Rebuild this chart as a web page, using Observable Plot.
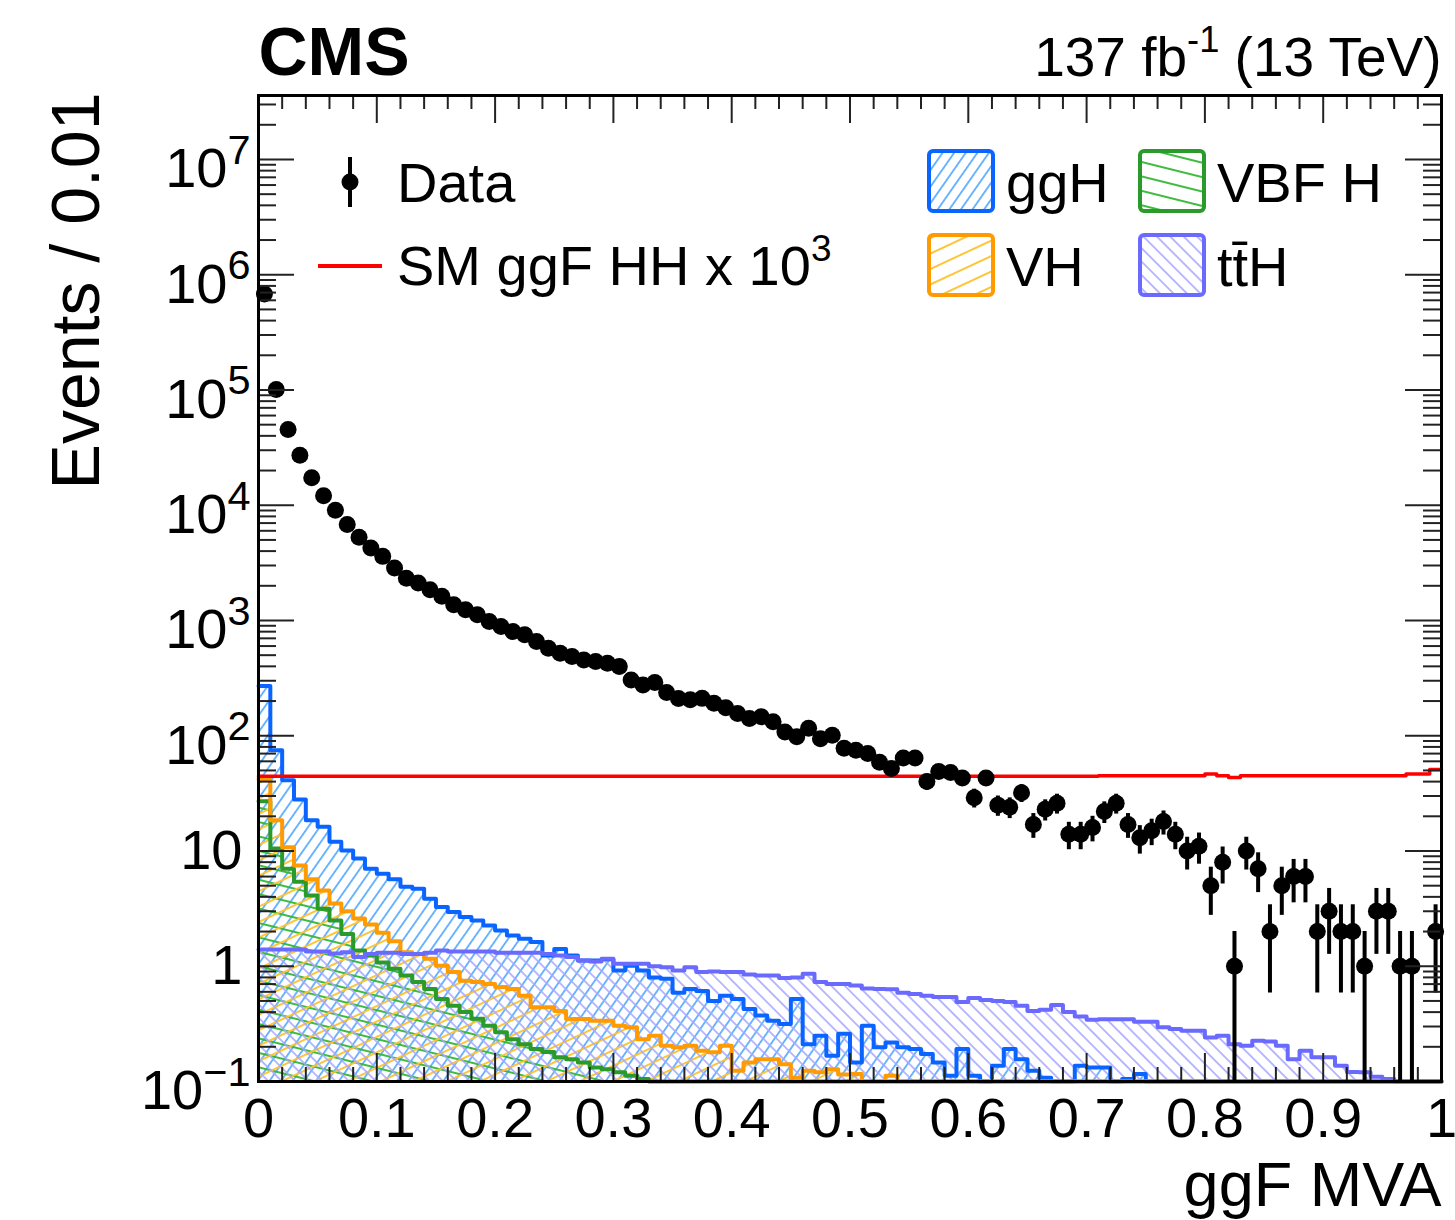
<!DOCTYPE html>
<html><head><meta charset="utf-8">
<script src="https://cdn.jsdelivr.net/npm/d3@7"></script>
<script src="https://cdn.jsdelivr.net/npm/@observablehq/plot@0.6"></script>
<style>
html,body{margin:0;padding:0;background:#fff;}
svg text{font-family:"Liberation Sans", Arial, Helvetica, sans-serif;}
</style></head><body><div id="chart"></div>
<script>
// ---------------- data (Events / 0.01 bin, ggF MVA in [0,1]) ----------------
const binWidth = 0.01;
const dataCounts = [680000,101000,45500,27200,17300,12100,9050,6800,5270,4260,
 3600,2850,2330,2110,1850,1620,1370,1240,1120,980,
 887,802,751,657,574,520,486,455,440,425,
 398,305,276,290,237,210,205,211,191,175,
 156,141,146,132,108,98,116,94,101,78,
 75,70,59,52,64,64,40,49,48,43,
 29,43,25,24,32,17,23,26,14,14,
 16,22,26,17,13,15,18,14,10,11,
 5,8,1,10,7,2,5,6,6,2,
 3,2,2,1,3,3,1,1,0,2];
const ggH = [270,75,41,28,18.5,16.2,12.0,10.1,8.6,7.0,
 6.35,5.7,4.9,4.7,3.85,3.26,2.95,2.67,2.5,2.26,
 2.04,1.85,1.73,1.62,1.24,1.41,1.24,1.12,1.12,1.15,
 0.92,1.01,0.92,0.80,0.78,0.59,0.635,0.61,0.50,0.556,
 0.52,0.425,0.373,0.337,0.315,0.52,0.211,0.25,0.167,0.26,
 0.146,0.305,0.198,0.218,0.198,0.191,0.173,0.146,0.112,0.191,
 0.112,0,0.137,0.191,0.156,0.124,0.108,0,0,0.137,
 0.132,0.132,0,0.105,0.116,0,0,0,0,0,
 0,0,0,0,0,0,0,0,0,0,
 0,0,0,0,0,0,0,0,0,0];
const vbfH = [27,10.5,7.0,5.4,4.1,3.15,2.5,1.9,1.37,1.24,
 1.08,0.95,0.83,0.73,0.635,0.52,0.455,0.40,0.35,0.305,
 0.267,0.233,0.211,0.191,0.18,0.162,0.156,0.146,0.132,0.128,
 0.12,0.112,0.105,0,0,0,0,0,0,0,
 0,0,0,0,0,0,0,0,0,0,
 0,0,0,0,0,0,0,0,0,0,
 0,0,0,0,0,0,0,0,0,0,
 0,0,0,0,0,0,0,0,0,0,
 0,0,0,0,0,0,0,0,0,0,
 0,0,0,0,0,0,0,0,0,0];
const vH = [42,18.5,10.8,7.5,5.7,4.55,3.5,3.0,2.6,2.3,
 1.95,1.65,1.32,1.28,1.16,1.01,0.89,0.75,0.73,0.70,
 0.66,0.635,0.556,0.44,0.44,0.41,0.348,0.348,0.337,0.337,
 0.305,0.295,0.233,0.25,0.204,0.198,0.204,0.185,0.179,0.204,
 0.124,0.146,0.156,0.156,0.141,0.108,0.124,0.12,0.128,0.115,
 0.116,0,0,0.112,0,0,0,0,0,0,
 0,0,0,0,0,0,0,0,0,0,
 0,0,0,0,0,0,0,0,0,0,
 0,0,0,0,0,0,0,0,0,0,
 0,0,0,0,0,0,0,0,0,0];
const ttH = [1.40,1.40,1.40,1.40,1.34,1.34,1.29,1.32,1.20,1.28,
 1.31,1.31,1.28,1.28,1.31,1.37,1.34,1.34,1.34,1.34,
 1.31,1.31,1.31,1.31,1.28,1.24,1.20,1.12,1.10,1.16,
 1.05,1.05,1.05,1.0,0.98,0.92,0.98,0.89,0.90,0.89,
 0.89,0.85,0.83,0.83,0.79,0.80,0.86,0.73,0.70,0.70,
 0.68,0.64,0.635,0.63,0.59,0.574,0.556,0.54,0.54,0.49,
 0.53,0.51,0.50,0.49,0.455,0.41,0.42,0.46,0.40,0.366,
 0.344,0.347,0.347,0.347,0.33,0.33,0.295,0.285,0.276,0.276,
 0.241,0.25,0.211,0.204,0.226,0.222,0.204,0.156,0.185,0.162,
 0.162,0.137,0.121,0.12,0.11,0.105,0.095,0.08,0.07,0.06];
const hhX1000 = [44.5,44.5,44.5,44.5,44.5,44.5,44.5,44.5,44.5,44.5,
 44.5,44.5,44.5,44.5,44.5,44.5,44.5,44.5,44.5,44.5,
 44.5,44.5,44.5,44.5,44.5,44.5,44.5,44.5,44.5,44.5,
 44.5,44.5,44.5,44.5,44.5,44.5,44.5,44.5,44.5,44.5,
 44.5,44.5,44.5,44.5,44.5,44.5,44.5,44.5,44.5,44.5,
 44.5,44.5,44.5,44.5,44.5,44.5,44.5,44.5,44.5,44.5,
 44.5,44.5,44.5,44.5,44.5,44.5,44.5,44.5,44.5,44.5,
 44.5,45,45,45,45,45,45,45,45,45,
 46.5,45,43.5,45,45,45,45,45,45,45,
 45,45,45,45,45,45,45,46.5,46.5,51];

const xTicks = [0,0.1,0.2,0.3,0.4,0.5,0.6,0.7,0.8,0.9,1];
const xTickLabels = ["0","0.1","0.2","0.3","0.4","0.5","0.6","0.7","0.8","0.9","1"];
const xMinorTicks = [0.02,0.04,0.06,0.08,0.12,0.14,0.16,0.18,0.22,0.24,0.26,0.28,0.32,0.34,0.36,0.38,
 0.42,0.44,0.46,0.48,0.52,0.54,0.56,0.58,0.62,0.64,0.66,0.68,0.72,0.74,0.76,0.78,0.82,0.84,0.86,0.88,0.92,0.94,0.96,0.98];
const yTicks = [0.1,1,10,100,1e3,1e4,1e5,1e6,1e7];
const yTickLabels = ["10^{−1}","1","10","10^{2}","10^{3}","10^{4}","10^{5}","10^{6}","10^{7}"];
const yMinorMultipliers = [2,3,4,5,6,7,8,9];

const yMin = 0.1, yMax = 3.59e7;
const W = 1455, H = 1220, ML = 258, MR = 14, MT = 95, MB = 139;
const FW = W - ML - MR, FH = H - MT - MB;

// ---------------- derived tables ----------------
const nb = dataCounts.length;
const binLo = d3.range(nb).map(i => i * binWidth);
function steps(vals) {
  const pts = [];
  vals.forEach((v, i) => {
    const y = Math.max(v, yMin);
    pts.push({x: binLo[i], y});
    pts.push({x: binLo[i] + binWidth, y});
  });
  return pts;
}
const dataRows = dataCounts.map((n, i) => ({
  xc: binLo[i] + binWidth / 2, n,
  lo: Math.max(n - Math.sqrt(n), yMin), hi: n + Math.sqrt(n)
})).filter(d => d.n > 0);
const yMinor = [];
for (let e = -1; e <= 7; e++) for (const m of yMinorMultipliers) { const v = m * Math.pow(10, e); if (v < yMax) yMinor.push(v); }

const procs = [
  {key: "ggH", vals: ggH, line: "#0a64ff", hatch: "#55aaff", angle: -55, gap: 9.5, hw: 1.7},
  {key: "VBF", vals: vbfH, line: "#2a9a2a", hatch: "#34b834", angle: 14, gap: 14, hw: 1.9},
  {key: "VH",  vals: vH,   line: "#ff9a00", hatch: "#ffc22e", angle: -25, gap: 14, hw: 1.9},
  {key: "ttH", vals: ttH,  line: "#6a6aff", hatch: "#a8a8ff", angle: 45, gap: 9.5, hw: 1.6}
];

const tickStroke = {stroke: "#222", strokeWidth: 2};
const marks = [];
for (const p of procs) marks.push(Plot.areaY(steps(p.vals), {x: "x", y1: yMin, y2: "y", fill: `url(#hatch-${p.key})`}));
for (const p of procs) marks.push(Plot.line(steps(p.vals), {x: "x", y: "y", stroke: p.line, strokeWidth: 4}));
marks.push(Plot.line(steps(hhX1000), {x: "x", y: "y", stroke: "#ff0000", strokeWidth: 3.5}));
marks.push(Plot.ruleX(dataRows, {x: "xc", y1: "lo", y2: "hi", stroke: "black", strokeWidth: 4}));
marks.push(Plot.dot(dataRows, {x: "xc", y: "n", r: 8.5, fill: "black"}));
// ticks (inside, ROOT style)
marks.push(Plot.ruleX(xTicks, {x: d => d, insetTop: FH - 28, ...tickStroke}));
marks.push(Plot.ruleX(xTicks, {x: d => d, insetBottom: FH - 28, ...tickStroke}));
marks.push(Plot.ruleX(xMinorTicks, {x: d => d, insetTop: FH - 14, ...tickStroke}));
marks.push(Plot.ruleX(xMinorTicks, {x: d => d, insetBottom: FH - 14, ...tickStroke}));
marks.push(Plot.ruleY(yTicks, {y: d => d, insetRight: FW - 36, ...tickStroke}));
marks.push(Plot.ruleY(yTicks, {y: d => d, insetLeft: FW - 36, ...tickStroke}));
marks.push(Plot.ruleY(yMinor, {y: d => d, insetRight: FW - 18, ...tickStroke}));
marks.push(Plot.ruleY(yMinor, {y: d => d, insetLeft: FW - 18, ...tickStroke}));
marks.push(Plot.frame({stroke: "black", strokeWidth: 3}));
// tick labels
marks.push(Plot.text(xTicks, {x: d => d, text: (d, i) => xTickLabels[i], frameAnchor: "bottom", lineAnchor: "top", dy: 16, fontSize: 56, fill: "black"}));
const yIdxPlain = yTickLabels.map((l, i) => i).filter(i => !yTickLabels[i].includes("^"));
const yIdxSup = yTickLabels.map((l, i) => i).filter(i => yTickLabels[i].includes("^"));
marks.push(Plot.text(yIdxPlain, {y: i => yTicks[i], text: i => yTickLabels[i], frameAnchor: "left", textAnchor: "end", dx: -16, fontSize: 56, fill: "black"}));
marks.push(Plot.text(yIdxSup, {y: i => yTicks[i], text: i => yTickLabels[i], frameAnchor: "left", textAnchor: "end", dx: -8, dy: 10, fontSize: 56, fill: "black"}));
// axis titles and header
marks.push(Plot.text(["ggF MVA"], {frameAnchor: "bottom-right", textAnchor: "end", lineAnchor: "bottom", dy: 124, fontSize: 63, fill: "black"}));
marks.push(Plot.text(["Events / 0.01"], {frameAnchor: "top-left", textAnchor: "end", lineAnchor: "bottom", rotate: -90, dx: -160, dy: -3, fontSize: 68, fill: "black"}));
marks.push(Plot.text(["CMS"], {frameAnchor: "top-left", textAnchor: "start", lineAnchor: "bottom", dy: -21, fontSize: 68, fontWeight: "bold", fill: "black"}));
marks.push(Plot.text(["137 fb^{-1} (13 TeV)"], {frameAnchor: "top-right", textAnchor: "end", lineAnchor: "bottom", dy: -20, fontSize: 55, fill: "black"}));

const chart = Plot.plot({
  width: W, height: H,
  marginLeft: ML, marginRight: MR, marginTop: MT, marginBottom: MB,
  style: {fontFamily: '"Liberation Sans", Arial, sans-serif', background: "white", overflow: "visible"},
  x: {domain: [0, 1], axis: null},
  y: {type: "log", domain: [yMin, yMax], axis: null},
  marks
});
document.getElementById("chart").appendChild(chart);

const svg = d3.select(chart);
// hatch patterns
const defs = svg.insert("defs", ":first-child");
for (const p of procs) {
  const pat = defs.append("pattern").attr("id", `hatch-${p.key}`).attr("patternUnits", "userSpaceOnUse")
    .attr("width", 20).attr("height", p.gap).attr("patternTransform", `rotate(${p.angle})`);
  pat.append("line").attr("x1", -2).attr("x2", 22).attr("y1", p.gap / 2).attr("y2", p.gap / 2)
    .attr("stroke", p.hatch).attr("stroke-width", p.hw);
}

// superscript handling: "a^{b}c"
function applySup(el, scale = 0.68) {
  const s = el.textContent;
  if (!s.includes("^{")) return;
  const fs = parseFloat(getComputedStyle(el).fontSize);
  const supFs = fs * scale, rise = fs * 0.42;
  const parts = s.split(/(\^\{[^}]*\})/).filter(t => t.length);
  el.textContent = "";
  let raised = false;
  for (const t of parts) {
    const ts = document.createElementNS("http://www.w3.org/2000/svg", "tspan");
    if (t.startsWith("^{")) {
      ts.textContent = t.slice(2, -1);
      ts.setAttribute("font-size", supFs);
      ts.setAttribute("dy", -rise);
      raised = true;
    } else {
      ts.textContent = t;
      if (raised) { ts.setAttribute("dy", rise); raised = false; }
    }
    el.appendChild(ts);
  }
}
svg.selectAll("text").each(function() {
  const isTick = /^10\^\{/.test(this.textContent);
  applySup(this, isTick ? 0.74 : 0.66);
});

// legend
const lg = svg.append("g").attr("font-size", 56).attr("fill", "black").attr("text-anchor", "start");
lg.append("line").attr("x1", 350).attr("x2", 350).attr("y1", 157).attr("y2", 207).attr("stroke", "black").attr("stroke-width", 4);
lg.append("circle").attr("cx", 350).attr("cy", 182).attr("r", 8.5).attr("fill", "black");
lg.append("text").attr("x", 397).attr("y", 202).attr("text-anchor", "start").text("Data");
lg.append("line").attr("x1", 318).attr("x2", 382).attr("y1", 266).attr("y2", 266).attr("stroke", "#ff0000").attr("stroke-width", 4);
const t2 = lg.append("text").attr("x", 397).attr("y", 285).attr("text-anchor", "start").text("SM ggF HH x 10^{3}");
applySup(t2.node(), 0.66);
const boxes = [
  {key: "ggH", x: 929, y: 151, label: "ggH"},
  {key: "VBF", x: 1140, y: 151, label: "VBF H"},
  {key: "VH", x: 929, y: 235, label: "VH"},
  {key: "ttH", x: 1140, y: 235, label: "tt\u0304H"}
];
for (const b of boxes) {
  const p = procs.find(q => q.key === b.key);
  lg.append("rect").attr("x", b.x).attr("y", b.y).attr("width", 64).attr("height", 60).attr("rx", 4)
    .attr("fill", `url(#hatch-${b.key})`).attr("stroke", p.line).attr("stroke-width", 4);
  lg.append("text").attr("x", b.x + 77).attr("y", b.y + 51).attr("text-anchor", "start").text(b.label);
}
</script></body></html>
